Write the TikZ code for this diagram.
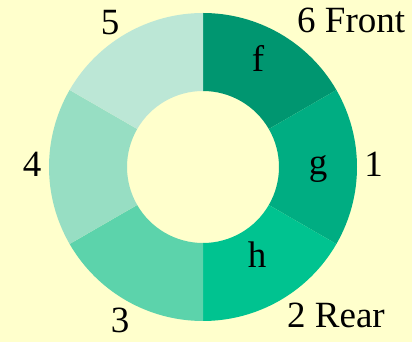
\documentclass[tikz,border=0pt]{standalone}
\usepackage{fontspec}
\setmainfont{Liberation Serif}
\usepackage{xcolor}
\usepackage{tikz}
\usetikzlibrary{positioning}
\definecolor{bgyellow}{HTML}{FFFFCC}
\definecolor{segf}{HTML}{009670}
\definecolor{segg}{HTML}{00AD82}
\definecolor{segh}{HTML}{00C390}
\definecolor{segthree}{HTML}{5CD3AB}
\definecolor{segfour}{HTML}{97DEC3}
\definecolor{segfive}{HTML}{BCE7D6}

\begin{document}
\begin{tikzpicture}[x=1pt,y=1pt,
  lbl/.style={anchor=base,inner sep=0pt,font=\fontsize{37}{44}\selectfont},
  side/.style={lbl,anchor=base west}]
\fill[bgyellow] (0,0) rectangle (412,342);
\useasboundingbox (0,0) rectangle (412,342);
\coordinate (ctr) at (203,175);
\begin{scope}[shift={(ctr)}]
\foreach \a/\b/\c in {90/30/segf,30/-30/segg,-30/-90/segh,-90/-150/segthree,-150/-210/segfour,150/90/segfive}
  \fill[\c] (\a:154) arc[start angle=\a,end angle=\b,radius=154] -- (\b:76) arc[start angle=\b,end angle=\a,radius=76] -- cycle;
\end{scope}
% inner letters
\node[lbl] (lf) at (258,270) {f};
\node[lbl] (lg) at (318,167) {g};
\node[lbl] (lh) at (257,74) {h};
% outer numbers
\node[lbl] (n1) at (373.5,165) {1};
\node[side] (n2) at (287,14) {2 Rear};
\node[lbl] (n3) at (120,9) {3};
\node[lbl] (n4) at (32,165) {4};
\node[lbl] (n5) at (110,307) {5};
\node[side] (n6) at (297,309) {6 Front};
\end{tikzpicture}
\end{document}
